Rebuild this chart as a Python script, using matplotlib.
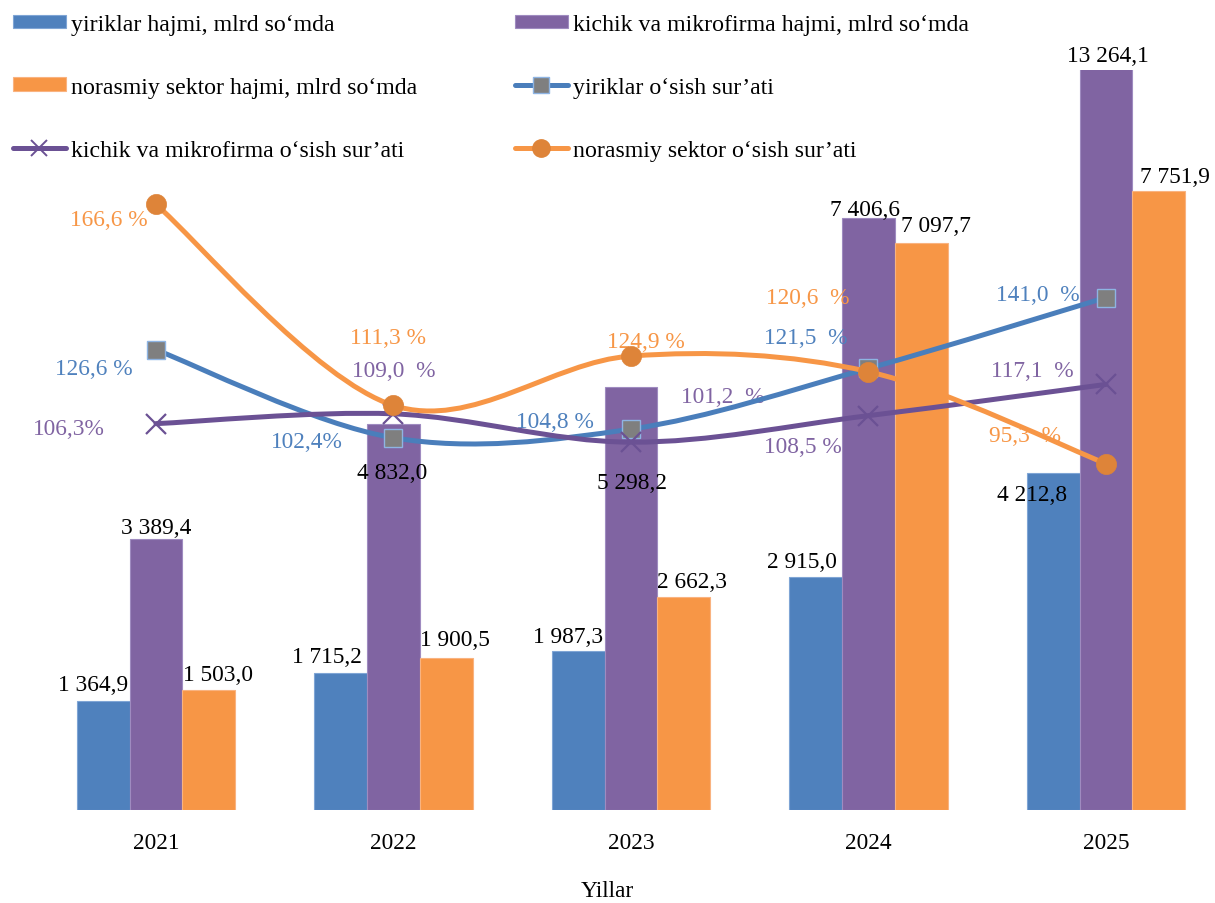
import numpy as np
import matplotlib
matplotlib.use("Agg")
import matplotlib.pyplot as plt
from matplotlib.path import Path
from matplotlib.patches import PathPatch, Patch
from matplotlib.lines import Line2D

# ---------------- data ----------------
years = ["2021", "2022", "2023", "2024", "2025"]

yiriklar_hajmi = [1364.9, 1715.2, 1987.3, 2915.0, 4212.8]
kichik_hajmi = [3389.4, 4832.0, 5298.2, 7406.6, 13264.1]
norasmiy_hajmi = [1503.0, 1900.5, 2662.3, 7097.7, 7751.9]

yiriklar_osish = [126.6, 102.4, 104.8, 121.5, 141.0]
kichik_osish = [106.3, 109.0, 101.2, 108.5, 117.1]
norasmiy_osish = [166.6, 111.3, 124.9, 120.6, 95.3]

yiriklar_osish_labels = ["126,6 %", "102,4%", "104,8 %", "121,5  %", "141,0  %"]
kichik_osish_labels = ["106,3%", "109,0  %", "101,2  %", "108,5 %", "117,1  %"]
norasmiy_osish_labels = ["166,6 %", "111,3 %", "124,9 %", "120,6  %", "95,3  %"]

legend_labels = [
    "yiriklar hajmi, mlrd so\u2018mda",
    "kichik va mikrofirma hajmi, mlrd so\u2018mda",
    "norasmiy sektor hajmi, mlrd so\u2018mda",
    "yiriklar o\u2018sish sur\u2019ati",
    "kichik va mikrofirma o\u2018sish sur\u2019ati",
    "norasmiy sektor o\u2018sish sur\u2019ati",
]
x_title = "Yillar"

# ---------------- style ----------------
plt.rcParams["font.family"] = ["Liberation Serif", "DejaVu Serif"]
FS = 16.8
FS_LEG = 17.2

C_BLUE = "#4F81BD"
C_PURPLE = "#8064A2"
C_ORANGE = "#F79646"
C_BLUE_LINE = "#4A7EBB"
C_PURPLE_LINE = "#6B5194"
C_ORANGE_LINE = "#F79646"
C_ORANGE_MARK = "#DE8439"
C_SQ_FACE = "#7F7F7F"
C_SQ_EDGE = "#8EB4E3"

fig = plt.figure(figsize=(12.15, 9.04), dpi=100)
ax = fig.add_axes([0.0, 1 - 811 / 904, 1.0, 740 / 904])
ax2 = ax.twinx()

x = np.arange(len(years))
w = 0.222

# bars
bar_sets = [
    (yiriklar_hajmi, -w, C_BLUE, "#7FA5D5"),
    (kichik_hajmi, 0.0, C_PURPLE, "#9F8BC0"),
    (norasmiy_hajmi, w, C_ORANGE, "#F9B380"),
]
for vals, off, col, ecol in bar_sets:
    ax.bar(x + off, vals, width=w, color=col, edgecolor=ecol, linewidth=0.8, zorder=2)

YMAX = 9260
ax.set_xlim(-156 / 237.5, (1215 - 156) / 237.5)
ax.set_ylim(0, YMAX)
ax2.set_ylim(0, 203.6)

def fmt(v):
    return f"{v:,.1f}".replace(",", " ").replace(".", ",")

# bar label offsets in pixels (dx, dy)
bar_offsets = [
    [(-10, 16), (-14, 16), (-10, 15), (-14, 16), (-21, -21)],
    [(0, 12), (-1, -49), (1, -96), (-3, 9), (2, 14)],
    [(9, 15), (9, 19), (8, 16), (15, 17), (16, 14)],
]
for (vals, off, col, ecol), offs in zip(bar_sets, bar_offsets):
    for i, v in enumerate(vals):
        ax.annotate(fmt(v), (x[i] + off, min(v, YMAX)), xytext=offs[i],
                    textcoords="offset pixels", ha="center", va="center",
                    fontsize=FS, color="black", zorder=5, annotation_clip=False)

# smoothed lines (Excel-like bezier)
def smooth_path(xs, ys):
    pts = list(zip(xs, ys))
    n = len(pts)
    verts = [pts[0]]
    codes = [Path.MOVETO]
    for i in range(n - 1):
        p0 = pts[i - 1] if i > 0 else pts[i]
        p1 = pts[i]
        p2 = pts[i + 1]
        p3 = pts[i + 2] if i + 2 < n else pts[i + 1]
        c1 = (p1[0] + (p2[0] - p0[0]) / 6, p1[1] + (p2[1] - p0[1]) / 6)
        c2 = (p2[0] - (p3[0] - p1[0]) / 6, p2[1] - (p3[1] - p1[1]) / 6)
        verts += [c1, c2, p2]
        codes += [Path.CURVE4] * 3
    return Path(verts, codes)

LW = 3.6
line_sets = [
    (yiriklar_osish, C_BLUE_LINE, dict(marker="s", markersize=12.5, markerfacecolor=C_SQ_FACE,
                                       markeredgecolor=C_SQ_EDGE, markeredgewidth=1.0), 3),
    (kichik_osish, C_PURPLE_LINE, dict(marker="x", markersize=14, markeredgecolor=C_PURPLE_LINE,
                                       markeredgewidth=1.6), 4),
    (norasmiy_osish, C_ORANGE_LINE, dict(marker="o", markersize=14.5, markerfacecolor=C_ORANGE_MARK,
                                         markeredgecolor=C_ORANGE_MARK, markeredgewidth=0.5), 5),
]
for vals, col, mk, z in line_sets:
    pp = PathPatch(smooth_path(x, vals), fill=False, edgecolor=col, linewidth=LW,
                   capstyle="round", joinstyle="round", transform=ax2.transData, zorder=z)
    ax2.add_patch(pp)
    ax2.plot(x, vals, linestyle="none", zorder=z + 0.5, **mk)

# line labels
line_label_sets = [
    (yiriklar_osish, yiriklar_osish_labels, C_BLUE,
     [(-62, -19), (-87, -4), (-76, 8), (-63, 31), (-68, 3)]),
    (kichik_osish, kichik_osish_labels, C_PURPLE,
     [(-87, -5), (0, 43), (92, 46), (-66, -31), (-74, 14)]),
    (norasmiy_osish, norasmiy_osish_labels, C_ORANGE,
     [(-47, -15), (-5, 68), (15, 15), (-61, 74), (-81, 28)]),
]
for vals, labs, col, offs in line_label_sets:
    for i, (v, t) in enumerate(zip(vals, labs)):
        ax2.annotate(t, (x[i], v), xytext=offs[i], textcoords="offset pixels",
                     ha="center", va="center", fontsize=FS, color=col, zorder=2,
                     annotation_clip=False)

# axes styling
for a in (ax, ax2):
    for s in a.spines.values():
        s.set_visible(False)
    a.set_yticks([])
ax.set_xticks(x)
ax.set_xticklabels(years, fontsize=FS)
ax.tick_params(axis="x", length=0, pad=15.5)
ax.set_xlabel(x_title, fontsize=FS, labelpad=20)

# legends (two columns)
h_blue = Patch(facecolor=C_BLUE, edgecolor="#7FA5D5", linewidth=0.8)
h_purple = Patch(facecolor=C_PURPLE, edgecolor="#9F8BC0", linewidth=0.8)
h_orange = Patch(facecolor=C_ORANGE, edgecolor="#F9B380", linewidth=0.8)
h_l_blue = Line2D([], [], color=C_BLUE_LINE, lw=LW, solid_capstyle="round", marker="s",
                  markersize=11, markerfacecolor=C_SQ_FACE, markeredgecolor=C_SQ_EDGE)
h_l_purple = Line2D([], [], color=C_PURPLE_LINE, lw=LW, solid_capstyle="round", marker="x",
                    markersize=12, markeredgecolor=C_PURPLE_LINE, markeredgewidth=1.4)
h_l_orange = Line2D([], [], color=C_ORANGE_LINE, lw=LW, solid_capstyle="round", marker="o",
                    markersize=12.5, markerfacecolor=C_ORANGE_MARK, markeredgecolor=C_ORANGE_MARK)

common = dict(frameon=False, fontsize=FS_LEG, handlelength=2.2, handleheight=0.52,
              handletextpad=0.22, labelspacing=1.75, borderpad=0, borderaxespad=0,
              loc="upper left")
leg1 = fig.legend([h_blue, h_orange, h_l_purple],
                  [legend_labels[0], legend_labels[2], legend_labels[4]],
                  bbox_to_anchor=(13 / 1215, 1 - 15 / 904), **common)
leg2 = fig.legend([h_purple, h_l_blue, h_l_orange],
                  [legend_labels[1], legend_labels[3], legend_labels[5]],
                  bbox_to_anchor=(515 / 1215, 1 - 15 / 904), **common)

fig.savefig("out.png", dpi=100)
